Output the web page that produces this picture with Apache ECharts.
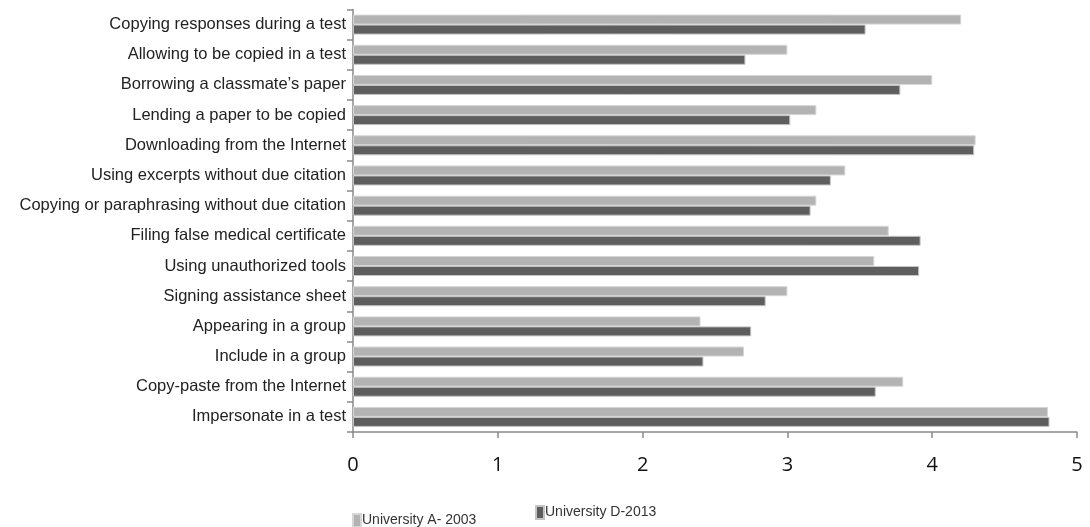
<!DOCTYPE html>
<html><head><meta charset="utf-8">
<script src="https://cdn.jsdelivr.net/npm/echarts@6/dist/echarts.min.js"></script>
<style>html,body{margin:0;padding:0;background:#fff}#c{width:1090px;height:527px}</style>
</head><body><div id="c"></div>
<script>
const categories = [
  "Copying responses during a test",
  "Allowing to be copied in a test",
  "Borrowing a classmate\u2019s paper",
  "Lending a paper to be copied",
  "Downloading from the Internet",
  "Using excerpts without due citation",
  "Copying or paraphrasing without due citation",
  "Filing false medical certificate",
  "Using unauthorized tools",
  "Signing assistance sheet",
  "Appearing in a group",
  "Include in a group",
  "Copy-paste from the Internet",
  "Impersonate in a test"
];
const seriesNames = ["University A- 2003", "University D-2013"];
const univA2003 = [4.20, 3.00, 4.00, 3.20, 4.30, 3.40, 3.20, 3.70, 3.60, 3.00, 2.40, 2.70, 3.80, 4.80];
const univD2013 = [3.54, 2.71, 3.78, 3.02, 4.29, 3.30, 3.16, 3.92, 3.91, 2.85, 2.75, 2.42, 3.61, 4.81];
const xTicks = [0, 1, 2, 3, 4, 5];

const chart = echarts.init(document.getElementById('c'));
const labelFont = '"Liberation Sans", Arial, sans-serif';
chart.setOption({
  animation: false,
  grid: {left: 353, right: 13, top: 9.5, bottom: 95, containLabel: false},
  legend: [
    {data: [seriesNames[0]], left: 347, top: 508, itemWidth: 8, itemHeight: 13, itemGap: 0,
     textStyle: {fontFamily: labelFont, fontSize: 14, color: '#333', padding: [0,0,0,-4]}, icon: 'rect'},
    {data: [seriesNames[1]], left: 530, top: 500, itemWidth: 8, itemHeight: 13, itemGap: 0,
     textStyle: {fontFamily: labelFont, fontSize: 14, color: '#333', padding: [0,0,0,-4]}, icon: 'rect'}
  ],
  xAxis: {
    type: 'value', min: xTicks[0], max: xTicks[xTicks.length-1], interval: 1,
    splitLine: {show: false},
    axisLine: {show: true, lineStyle: {color: '#8a8a8a', width: 1.5}},
    axisTick: {show: true, length: 6, lineStyle: {color: '#8a8a8a', width: 1.5}},
    axisLabel: {margin: 23, fontFamily: '"Open Sans", "Noto Sans", sans-serif', fontSize: 20, color: '#111'}
  },
  yAxis: {
    type: 'category', data: categories, inverse: true,
    axisLine: {show: true, lineStyle: {color: '#8a8a8a', width: 1.5}},
    axisTick: {show: true, length: 6, lineStyle: {color: '#8a8a8a', width: 1.5}},
    axisLabel: {margin: 7, fontFamily: labelFont, fontSize: 16.5, color: '#222', padding: [0, 0, 8, 0]}
  },
  series: [
    {name: seriesNames[0], type: 'bar', data: univA2003, barWidth: 10, barGap: '0%',
     itemStyle: {color: '#b3b3b3', borderColor: '#d6d6d6', borderWidth: 1}},
    {name: seriesNames[1], type: 'bar', data: univD2013, barWidth: 10, barGap: '0%',
     itemStyle: {color: '#5e5e5e', borderColor: '#c4c4c4', borderWidth: 1}}
  ]
});
</script></body></html>
